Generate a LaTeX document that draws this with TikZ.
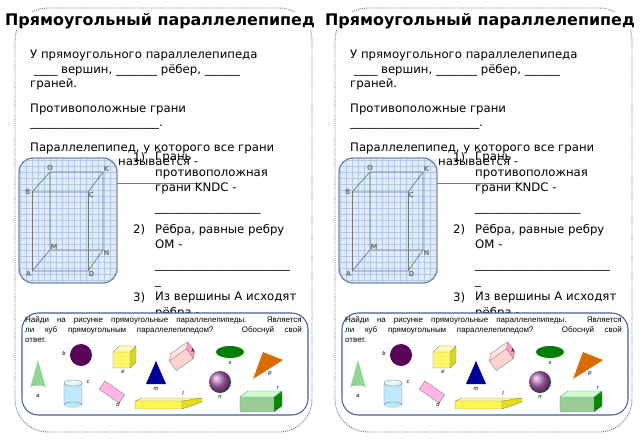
\documentclass[tikz,border=0pt]{standalone}
\usepackage{fontspec}
\setmainfont{DejaVu Sans}
\newfontfamily\smallfont{Liberation Sans}
\usetikzlibrary{positioning}
\definecolor{frameblue}{RGB}{95,110,150}
\definecolor{boxblue}{RGB}{70,95,150}
\definecolor{gridblue}{RGB}{175,200,235}
\definecolor{paleblue}{RGB}{225,235,250}
\definecolor{edgegray}{RGB}{120,120,120}
\tikzset{
  frame/.style={draw=frameblue,densely dotted,line width=0.8pt,rounded corners=28pt},
  body/.style={anchor=north west,align=left,inner sep=0pt,font=\fontsize{10}{12.2}\selectfont},
  item/.style={anchor=north west,align=left,inner sep=0pt,font=\fontsize{10}{13.2}\selectfont},
  lbl/.style={font=\bfseries\fontsize{6}{6}\selectfont,text=edgegray,inner sep=1pt},
  shp/.style={font=\smallfont\itshape\fontsize{5}{5}\selectfont,inner sep=0.5pt},
  edge/.style={draw=edgegray,line width=0.6pt}
}
\begin{document}
\begin{tikzpicture}[x=0.03cm,y=-0.03cm]
  \useasboundingbox (0,0) rectangle (640,443);
  \fill[white] (0,0) rectangle (640,443);

  \foreach \dx in {0,320} {
  \begin{scope}[shift={(\dx,0)}]
    % outer frame
    \draw[frame] (15,8) rectangle (312,432);
    \node[font=\bfseries\fontsize{13.6}{14}\selectfont,fill=white,inner sep=1pt]
      (title\dx) at (160,21) {Прямоугольный параллелепипед};

    % text block
    \node[body] (intro\dx) at (30,50)
      {У прямоугольного параллелепипеда\\
       \ \_\_\_\_ вершин, \_\_\_\_\_\_\_ рёбер, \_\_\_\_\_\_\\
       граней.\\[9pt]
       Противоположные грани\\
       \_\_\_\_\_\_\_\_\_\_\_\_\_\_\_\_\_\_\_\_\_\_.\\[9pt]
       Параллелепипед, у которого все грани\\
       \hspace*{75pt}называется -};
    \draw[edgegray,line width=0.8pt] (117,183) -- (200,183);

    % cube picture
    \draw[draw=boxblue!80,fill=paleblue,line width=0.8pt,rounded corners=12pt]
      (19,158) rectangle (117,283);
    \begin{scope}
      \clip[rounded corners=12pt] (19,158) rectangle (117,283);
      \foreach \gx in {20,26,...,116} \draw[gridblue,line width=0.3pt] (\gx,158) -- (\gx,283);
      \foreach \gy in {160,166,...,282} \draw[gridblue,line width=0.3pt] (19,\gy) -- (117,\gy);
    \end{scope}
    \draw[draw=boxblue!80,line width=0.8pt,rounded corners=12pt]
      (19,158) rectangle (117,283);
    \coordinate (O\dx) at (50,172);
    \coordinate (K\dx) at (103,172);
    \coordinate (B\dx) at (32,192);
    \coordinate (C\dx) at (88,192);
    \coordinate (M\dx) at (50,250);
    \coordinate (N\dx) at (103,250);
    \coordinate (A\dx) at (32,271);
    \coordinate (D\dx) at (88,271);
    \draw[edge] (B\dx) -- (O\dx) -- (K\dx) -- (C\dx) -- cycle;
    \draw[edge] (A\dx) -- (D\dx) -- (N\dx) -- (K\dx);
    \draw[edge] (A\dx) -- (B\dx) (D\dx) -- (C\dx);
    \draw[edge] (A\dx) -- (M\dx) -- (N\dx) (M\dx) -- (O\dx);
    \node[lbl,above] at (O\dx) {O};
    \node[lbl,above right=-1pt] at (K\dx) {K};
    \node[lbl,left] at (B\dx) {B};
    \node[lbl,below right=-1pt] at (C\dx) {C};
    \node[lbl,above right=-1pt] at (M\dx) {M};
    \node[lbl,below right=-1pt] at (N\dx) {N};
    \node[lbl,below left=-1pt] at (A\dx) {A};
    \node[lbl,below right=-1pt] at (D\dx) {D};

    % numbered list
    \node[item] (n1\dx) at (133,152) {1)};
    \node[item] (t1\dx) at (155,152)
      {Грань\\противоположная\\грани KNDC -\\[4pt]\_\_\_\_\_\_\_\_\_\_\_\_\_\_\_\_\_\_};
    \node[item] (n2\dx) at (133,224) {2)};
    \node[item] (t2\dx) at (155,224)
      {Рёбра, равные ребру\\OM -\\[4pt]\_\_\_\_\_\_\_\_\_\_\_\_\_\_\_\_\_\_\_\_\_\_\_\\\_};
    \node[item] (n3\dx) at (133,292) {3)};
    \node[item] (t3\dx) at (155,292) {Из вершины A исходят\\рёбра -};

    % task box
    \draw[draw=boxblue,fill=white,line width=0.9pt,rounded corners=14pt]
      (22,313) rectangle (308,415);
    \node[anchor=north west,inner sep=0pt,text width=236pt,align=justify,
      font=\smallfont\fontsize{6.8}{8.8}\selectfont] (task\dx) at (25,316)
      {Найди на рисунке прямоугольные параллелепипеды. Является\linebreak ли куб прямоугольным параллелепипедом? Обоснуй свой\linebreak ответ.};

    % cone a
    \fill[green!45!gray!60] (30,388) -- (38,360) -- (46,388) arc (0:-180:8 and 2.5) -- cycle;
    \node[shp] at (38,396) {a};
    % circle b
    \fill[violet!70!black] (81,355) circle (11);
    \node[shp] at (64,353) {b};
    % cube e
    \fill[yellow!60] (113,352) rectangle (130,368);
    \fill[yellow!85!black] (130,352) -- (136,346) -- (136,362) -- (130,368) -- cycle;
    \fill[yellow!30] (113,352) -- (119,346) -- (136,346) -- (130,352) -- cycle;
    \draw[gray,line width=0.3pt] (113,352) rectangle (130,368) (113,352) -- (119,346) -- (136,346) -- (136,362) -- (130,368) (130,352) -- (136,346);
    \node[shp] at (123,372) {e};
    % triangle m
    \fill[blue!60!black] (146,384) -- (156,361) -- (166,384) -- cycle;
    \node[shp] at (156,389) {m};
    % cylinder c
    \fill[cyan!25] (64,383) rectangle (82,405);
    \fill[cyan!25] (73,405) ellipse (9 and 3);
    \draw[gray,line width=0.3pt] (64,383) -- (64,405) arc (-180:0:9 and 3) -- (82,383);
    \draw[gray,fill=cyan!10,line width=0.3pt] (73,383) ellipse (9 and 3);
    \node[shp] at (88,382) {c};
    % box k
    \begin{scope}[shift={(182,358)},rotate=35]
      \fill[pink!70] (-12,-5) rectangle (9,7);
      \fill[magenta!40] (9,-5) -- (14,-10) -- (14,2) -- (9,7) -- cycle;
      \fill[pink!40] (-12,-5) -- (-7,-10) -- (14,-10) -- (9,-5) -- cycle;
      \draw[gray,line width=0.3pt] (-12,-5) rectangle (9,7) (-12,-5) -- (-7,-10) -- (14,-10) -- (14,2) -- (9,7) (9,-5) -- (14,-10);
    \end{scope}
    \node[shp] at (193,350) {k};
    % rectangle d
    \begin{scope}[shift={(112,392)},rotate=-35]
      \filldraw[fill=pink!70!magenta!60,draw=gray,line width=0.3pt] (-12,-5) rectangle (12,5);
    \end{scope}
    \node[shp] at (118,404) {d};
    % flat box l
    \fill[yellow!70] (135,401) rectangle (182,409);
    \fill[yellow!40] (135,401) -- (142,398) -- (202,398) -- (182,401) -- cycle;
    \fill[yellow!90!black] (182,401) -- (202,398) -- (202,402) -- (182,409) -- cycle;
    \draw[gray,line width=0.3pt] (135,401) rectangle (182,409) (135,401) -- (142,398) -- (202,398) -- (202,402) -- (182,409) (182,401) -- (202,398);
    \node[shp] at (183,393) {l};
    % ellipse s
    \fill[green!50!black] (230,352) ellipse (14 and 6);
    \node[shp] at (230,363) {s};
    % triangle p
    \fill[orange!85!black] (253,379) -- (283,360) -- (263,352) -- cycle;
    \node[shp] at (270,374) {p};
    % sphere n
    \shade[ball color=violet!60] (220,382) circle (11);
    \node[shp] at (220,397) {n};
    % box r
    \fill[green!35!gray!60] (240,397) rectangle (274,412);
    \fill[green!55!black] (274,397) -- (282,391) -- (282,406) -- (274,412) -- cycle;
    \fill[green!20] (240,397) -- (248,391) -- (282,391) -- (274,397) -- cycle;
    \draw[gray,line width=0.3pt] (240,397) rectangle (274,412) (240,397) -- (248,391) -- (282,391) -- (282,406) -- (274,412) (274,397) -- (282,391);
    \node[shp] at (278,388) {r};
  \end{scope}
  }
\end{tikzpicture}
\end{document}
